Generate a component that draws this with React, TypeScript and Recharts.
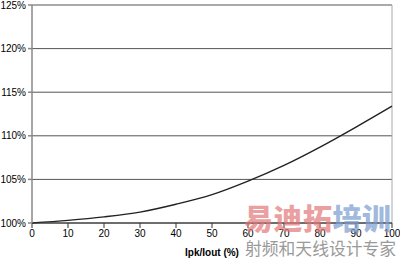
import React from 'react';
import { LineChart, Line, XAxis, YAxis, CartesianGrid, ReferenceLine } from 'recharts';

const ratio = [0, 10, 20, 30, 40, 50, 60, 70, 80, 90, 100];
const efficiency = [100.0, 100.3, 100.7, 101.25, 102.15, 103.25, 104.8, 106.6, 108.7, 111.0, 113.4];
const yTicks = [100, 105, 110, 115, 120, 125];
const xTicks = [0, 10, 20, 30, 40, 50, 60, 70, 80, 90, 100];
const xLabel = 'Ipk/Iout (%)';
const markTop = ['易迪拓', '培训'];
const markBottom = '射频和天线设计专家';

const data = ratio.map((x, i) => ({ x, y: efficiency[i] }));

const tickStyle = { fontSize: 10, fill: '#000', fontFamily: 'Liberation Sans, Arial, sans-serif' };

export default function App() {
  return (
    <div style={{ position: 'absolute', left: 0, top: 0, width: 400, height: 259, background: '#fff' }}>
      <LineChart width={400} height={259} data={data} margin={{ top: 5, right: 8, bottom: 0, left: 0 }}>
        <CartesianGrid vertical={false} stroke="#555" />
        <XAxis
          dataKey="x"
          type="number"
          domain={[0, 100]}
          ticks={xTicks}
          height={36}
          tick={tickStyle}
          tickSize={5}
          stroke="#333"
          label={{ value: xLabel, position: 'insideBottom', offset: 3, style: { ...tickStyle, fontWeight: 'bold' } }}
        />
        <YAxis
          type="number"
          domain={[100, 125]}
          ticks={yTicks}
          width={32}
          tick={tickStyle}
          tickSize={4}
          tickMargin={2}
          stroke="#888"
          strokeWidth={1.5}
          tickFormatter={(v: number) => `${v}%`}
          interval={0}
        />
        <ReferenceLine y={125} stroke="#aaa" />
        <ReferenceLine x={100} stroke="#aaa" />
        <Line
          type="monotone"
          dataKey="y"
          stroke="#222"
          strokeWidth={1.4}
          dot={false}
          isAnimationActive={false}
        />
      </LineChart>
      {/* watermark */}
      <div
        style={{
          position: 'absolute',
          left: 244,
          top: 202,
          fontSize: 29,
          fontWeight: 900,
          fontFamily: 'Noto Sans CJK SC, sans-serif',
          lineHeight: '30px',
          letterSpacing: 0.5,
          opacity: 0.7,
          pointerEvents: 'none',
          whiteSpace: 'nowrap',
        }}
      >
        <span style={{ color: '#e27878' }}>{markTop[0]}</span>
        <span style={{ color: '#7a9ccf' }}>{markTop[1]}</span>
      </div>
      <div
        style={{
          position: 'absolute',
          left: 245,
          top: 237,
          fontSize: 16.8,
          fontFamily: 'Noto Sans CJK SC, sans-serif',
          lineHeight: '22px',
          color: '#9a9a9a',
          pointerEvents: 'none',
          whiteSpace: 'nowrap',
        }}
      >
        {markBottom}
      </div>
    </div>
  );
}
